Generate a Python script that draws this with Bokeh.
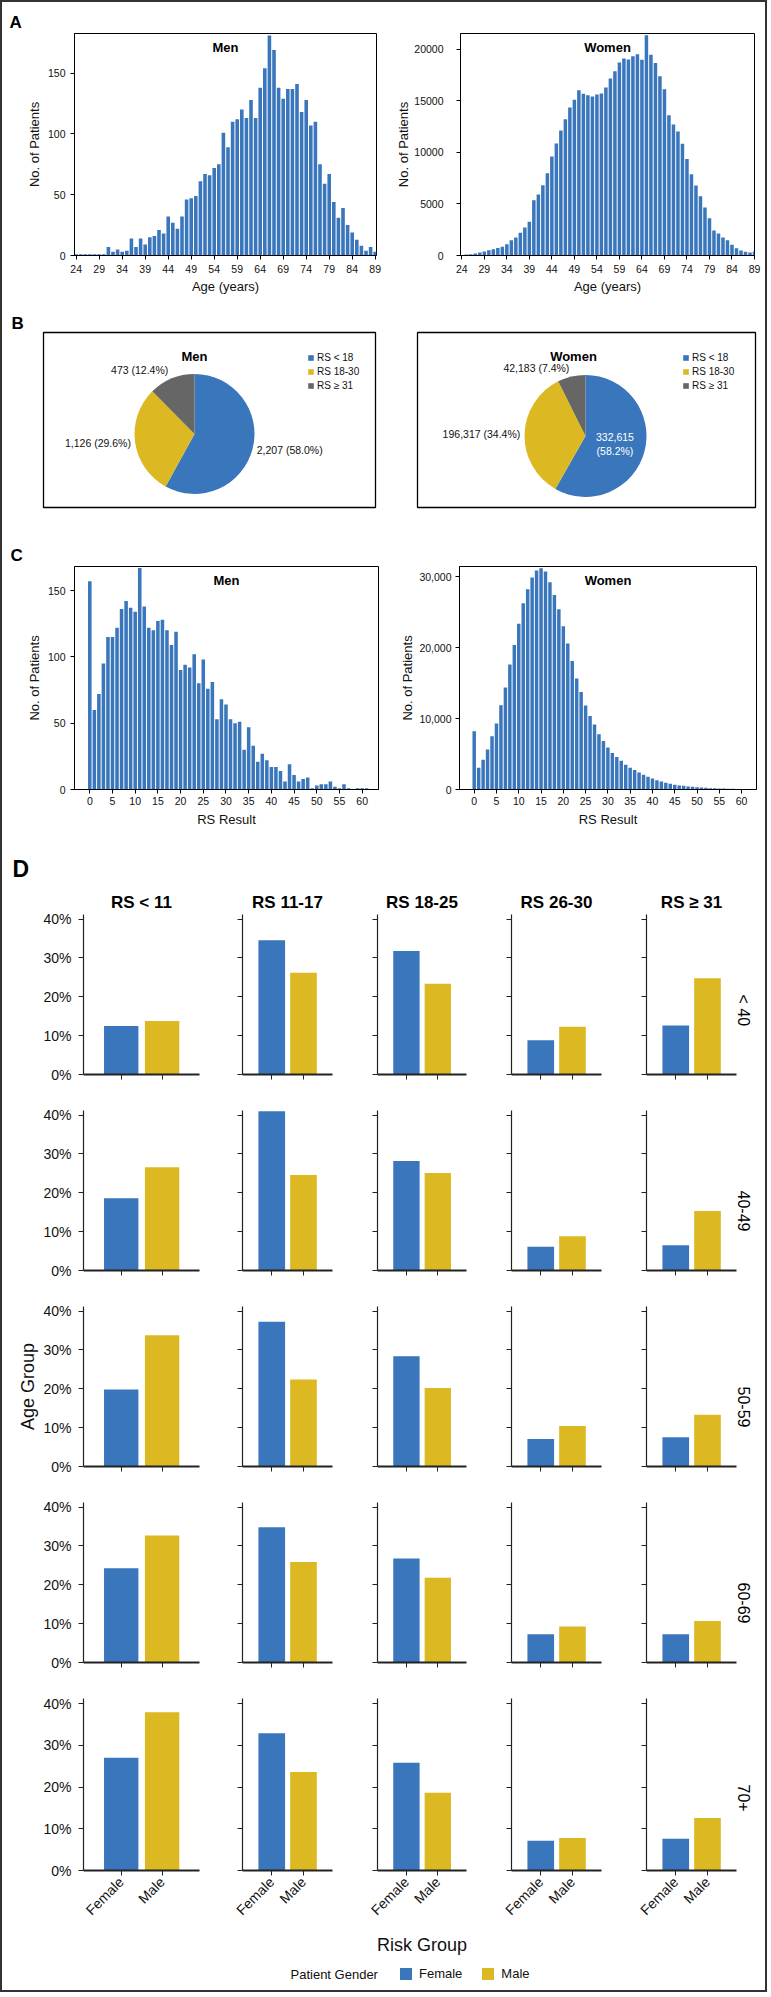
import math
import numpy as np
from bokeh.plotting import figure
from bokeh.layouts import column, row
from bokeh.models import (Range1d, FixedTicker, Label, Legend, LegendItem, Title, LinearAxis,
                          NumeralTickFormatter, PrintfTickFormatter, ColumnDataSource,
                          CustomLabelingPolicy)
from bokeh.core.properties import value
from bokeh.embed import file_html
from bokeh.resources import INLINE

FONT = "Liberation Sans"
BLUE = "#3a76bb"
YELLOW = "#dcb923"
GRAY = "#666666"
TXT = "#111111"
EDGE = "2px solid #333333"
EW = 2

# ---------------- data ----------------
ages = list(range(24, 90))
men_age_counts = [1, 1, 1, 1, 1, 1, 1, 7, 3, 5, 3, 4, 14, 7, 14, 9,
                  15, 16, 21, 18, 32, 27, 22, 32, 46, 47,
                  49, 61, 67, 66, 72, 75, 101, 89, 110, 112,
                  120, 113, 128, 113, 138, 154, 181, 169, 138, 129,
                  137, 137, 141, 118, 128, 107, 110, 75, 59, 67,
                  44, 31, 39, 25, 19, 13, 8, 4, 7, 3]
women_age_counts = [50, 100, 130, 190, 290, 390, 520, 610, 740, 840, 1100, 1490, 1750, 2200, 2720, 3270,
                    5370, 5920, 6830, 7990, 9610, 10870, 12130, 13240, 14370, 15110,
                    16050, 15700, 15570, 15440, 15630, 15730, 16310, 17180, 17900, 18740,
                    19120, 19030, 19350, 19550, 19000, 21390, 19480, 18700, 17410, 16150,
                    13620, 12720, 12040, 10840, 9380, 7900, 6800, 5760, 4660, 3620,
                    2430, 2140, 1750, 1490, 1040, 710, 490, 360, 290, 390]
age_ticks = [24, 29, 34, 39, 44, 49, 54, 59, 64, 69, 74, 79, 84, 89]

rs_scores = list(range(0, 62))
men_rs_counts = [157, 60, 72, 95, 115, 115, 122, 136, 142, 137,
                 134, 167, 138, 122, 120, 127, 128, 120, 109, 119,
                 90, 94, 92, 102, 80, 98, 76, 81, 53, 68,
                 64, 53, 50, 51, 30, 47, 33, 21, 27, 22,
                 17, 17, 14, 6, 19, 11, 6, 8, 9, 1,
                 3, 4, 4, 6, 2, 1, 4, 1, 0, 1,
                 1, 1]
women_rs_counts = [8200, 3060, 4190, 5650, 7490, 9280, 11870, 14370, 17620, 20350,
                   23360, 26240, 28210, 29860, 30850, 31180, 30710, 29200, 27410, 25390,
                   22980, 20580, 18090, 15640, 13750, 11820, 10360, 9140, 7770, 6830,
                   5930, 5130, 4570, 4050, 3490, 3060, 2730, 2400, 2070, 1790,
                   1550, 1320, 1130, 940, 800, 660, 570, 520, 420, 380,
                   330, 280, 240, 190, 190, 140, 140, 100, 90, 50,
                   40, 30]
rs_ticks = [0, 5, 10, 15, 20, 25, 30, 35, 40, 45, 50, 55, 60]

pie_categories = ["RS < 18", "RS 18-30", "RS \u2265 31"]
men_pie_counts = [2207, 1126, 473]
women_pie_counts = [332615, 196317, 42183]

risk_groups = ["RS < 11", "RS 11-17", "RS 18-25", "RS 26-30", "RS \u2265 31"]
age_groups = ["< 40", "40-49", "50-59", "60-69", "70+"]
genders = ["Female", "Male"]
female_lt40 = [12.5, 34.6, 31.8, 8.8, 12.6]
male_lt40 = [13.8, 26.2, 23.4, 12.3, 24.8]
female_40s = [18.6, 41.0, 28.2, 6.1, 6.5]
male_40s = [26.6, 24.6, 25.1, 8.8, 15.3]
female_50s = [19.8, 37.3, 28.4, 7.1, 7.5]
male_50s = [33.8, 22.4, 20.2, 10.4, 13.3]
female_60s = [24.3, 34.8, 26.8, 7.3, 7.3]
male_60s = [32.7, 25.9, 21.8, 9.3, 10.7]
female_70plus = [27.0, 32.9, 25.8, 7.1, 7.6]
male_70plus = [37.9, 23.6, 18.6, 7.8, 12.6]
pct_ticks = [0, 10, 20, 30, 40]

NO_LABELS = "for (const i of indices) { indices.unset(i) }\nreturn indices"


# ---------------- helpers ----------------
def new_fig(width, height, left, right, top, bottom, edges=(), **kw):
    """Figure whose frame keeps its place; page-frame edges are CSS borders."""
    if "left" in edges:
        width -= EW
        left -= EW
    if "right" in edges:
        width -= EW
        right -= EW
    if "top" in edges:
        height -= EW
        top -= EW
    if "bottom" in edges:
        height -= EW
        bottom -= EW
    p = figure(width=width, height=height, toolbar_location=None, output_backend="svg",
               title=None, min_border_left=left, min_border_right=right,
               min_border_top=top, min_border_bottom=bottom, **kw)
    if edges:
        p.styles = {f"border-{e}": EDGE for e in edges}
    return p


def style_axis(ax, size="10.5px"):
    ax.axis_line_color = "black"
    ax.axis_line_width = 1
    ax.major_tick_line_color = "black"
    ax.major_tick_out = 4
    ax.major_tick_in = 0
    ax.minor_tick_line_color = None
    ax.major_label_text_font = FONT
    ax.major_label_text_font_size = size
    ax.major_label_text_color = TXT
    ax.axis_label_text_font = FONT
    ax.axis_label_text_font_style = "normal"
    ax.axis_label_text_font_size = "13px"
    ax.axis_label_text_color = TXT


def add_letter(p, text, offset, standoff, size="17px"):
    p.add_layout(Title(text=text, align="left", offset=offset, standoff=standoff,
                       text_font=FONT, text_font_style="bold", text_font_size=size,
                       text_color="black"), "above")


def make_hist(x, counts, xr, yr, xticks, yticks, width, left, fw, top, fh, bottom,
              title, xlabel, edges=(), yfmt=None, ytick_so=5, ylab_so=5, xtick_so=5, xlab_so=3):
    p = new_fig(width, top + fh + bottom, left, width - left - fw, top, bottom, edges,
                x_range=Range1d(*xr), y_range=Range1d(*yr))
    p.vbar(x=x, top=counts, width=0.78, fill_color=BLUE, line_color=None)
    p.grid.visible = False
    p.outline_line_color = "black"
    p.outline_line_alpha = 1
    p.outline_line_width = 1
    p.xaxis.ticker = FixedTicker(ticks=xticks)
    p.yaxis.ticker = FixedTicker(ticks=yticks)
    if yfmt is not None:
        p.yaxis.formatter = yfmt
    style_axis(p.xaxis[0])
    style_axis(p.yaxis[0])
    p.xaxis.axis_label = xlabel
    p.yaxis.axis_label = "No. of Patients"
    p.yaxis.major_label_standoff = ytick_so
    p.yaxis.axis_label_standoff = ylab_so
    p.xaxis.major_label_standoff = xtick_so
    p.xaxis.axis_label_standoff = xlab_so
    p.add_layout(Label(x=(xr[0] + xr[1]) / 2, y=yr[1], y_offset=-14, text=title,
                       text_font=FONT, text_font_style="bold", text_font_size="13px",
                       text_align="center", text_baseline="middle", text_color="black"))
    return p


def make_pie(counts, title, width, left, fw, cx, cy, R, factors, inside, title_x, leg_x, edges=()):
    fh = 176
    p = new_fig(width, 215, left, width - left - fw, 20, 19, edges,
                x_range=Range1d(0, fw), y_range=Range1d(0, fh),
                x_axis_type=None, y_axis_type=None)
    p.grid.visible = False
    p.outline_line_color = "black"
    p.outline_line_width = 1.3
    total = float(sum(counts))
    frac = [c / total for c in counts]
    cum = np.concatenate([[0.0], np.cumsum(frac)])
    start = [math.pi / 2 - 2 * math.pi * cum[i] for i in range(len(counts))]
    end = [math.pi / 2 - 2 * math.pi * cum[i + 1] for i in range(len(counts))]
    src = ColumnDataSource(dict(cat=pie_categories, start=start, end=end,
                                color=[BLUE, YELLOW, GRAY]))
    p.wedge(x=cx, y=cy, radius=R, start_angle="start", end_angle="end",
            direction="clock", fill_color="color", line_color=None,
            legend_field="cat", source=src)
    lx, ly, lt, la, lc = [], [], [], [], []
    for i, c in enumerate(counts):
        mid = (start[i] + end[i]) / 2
        f = factors[i]
        lx.append(cx + f * R * math.cos(mid))
        ly.append(cy + f * R * math.sin(mid))
        pct = 100.0 * c / total
        if i == inside:
            lt.append(f"{c:,}\n({pct:.1f}%)")
            la.append("center")
            lc.append("white")
        else:
            lt.append(f"{c:,} ({pct:.1f}%)")
            la.append("left" if math.cos(mid) > 0 else "right")
            lc.append(TXT)
    tsrc = ColumnDataSource(dict(x=lx, y=ly, t=lt, a=la, c=lc))
    p.text(x="x", y="y", text="t", text_align="a", text_color="c", source=tsrc,
           text_baseline="middle", text_font=value(FONT), text_font_size="10.5px",
           text_line_height=1.15)
    p.add_layout(Label(x=title_x, y=fh - 24, text=title, text_font=FONT,
                       text_font_style="bold", text_font_size="13px",
                       text_align="center", text_baseline="middle", text_color="black"))
    lg = p.legend[0]
    lg.location = (leg_x, 116)
    lg.orientation = "vertical"
    lg.glyph_width = 7
    lg.glyph_height = 7
    lg.label_height = 11
    lg.label_width = 10
    lg.spacing = 3
    lg.padding = 0
    lg.margin = 0
    lg.label_standoff = 3
    lg.label_text_font = FONT
    lg.label_text_font_size = "10px"
    lg.label_text_color = TXT
    lg.border_line_color = None
    lg.background_fill_alpha = 0
    return p


# ---------------- panel A ----------------
pA_m = make_hist(ages, men_age_counts, (23.63, 89.28), (0, 182.6), age_ticks, [0, 50, 100, 150],
                 395, 74, 302, 33, 222, 58, "Men", "Age (years)", edges=("left", "top"),
                 ytick_so=5, ylab_so=3, xtick_so=5, xlab_so=3)
pA_w = make_hist(ages, women_age_counts, (23.71, 89.0), (0, 21553), age_ticks,
                 [0, 5000, 10000, 15000, 20000],
                 376, 66, 295, 33, 222, 58, "Women", "Age (years)", edges=("right", "top"),
                 ytick_so=13, ylab_so=0, xtick_so=5, xlab_so=3)
add_letter(pA_m, "A", -65, 4)

# ---------------- panel B ----------------
pB_m = make_pie(men_pie_counts, "Men", 395, 43, 332, 151, 74, 60,
                [1.07, 1.07, 1.15], None, 151, 264, edges=("left",))
pB_w = make_pie(women_pie_counts, "Women", 376, 24, 338, 168, 72, 61,
                [0.5, 1.07, 1.15], 0, 156, 265, edges=("right",))
add_letter(pB_m, "B", -32, 0)

# ---------------- panel C ----------------
pC_m = make_hist(rs_scores, men_rs_counts, (-3.37, 63.6), (0, 168.1), rs_ticks, [0, 50, 100, 150],
                 395, 74, 304, 40, 223, 49, "Men", "RS Result", edges=("left",),
                 ytick_so=5, ylab_so=3, xtick_so=3, xlab_so=4)
pC_w = make_hist(rs_scores, women_rs_counts, (-3.3, 63.35), (0, 31413), rs_ticks,
                 [0, 10000, 20000, 30000],
                 376, 66, 297, 40, 223, 49, "Women", "RS Result", edges=("right",),
                 yfmt=NumeralTickFormatter(format="0,0"),
                 ytick_so=4, ylab_so=1, xtick_so=3, xlab_so=4)
add_letter(pC_m, "C", -64, 3)

# ---------------- panel D ----------------
female_by_age = [female_lt40, female_40s, female_50s, female_60s, female_70plus]
male_by_age = [male_lt40, male_40s, male_50s, male_60s, male_70plus]
col_w = [208, 135, 134, 135, 159]
col_left = [83, 10, 9, 10, 10]
FW_D, FH_D = 116, 172
D_XR = (0.078, 2.914)
D_YR = (0, 41.2)
gx = [i + 1 for i in range(len(genders))]

d_rows = []
n_rows = len(age_groups)
n_cols = len(risk_groups)
for r in range(n_rows):
    figs = []
    top = 76 if r == 0 else 12
    bottom = 90 if r == n_rows - 1 else 12
    for c in range(n_cols):
        w = col_w[c]
        edges = ("left",) if c == 0 else (("right",) if c == n_cols - 1 else ())
        p = new_fig(w, top + FH_D + bottom, col_left[c], w - col_left[c] - FW_D, top, bottom,
                    edges, x_range=Range1d(*D_XR), y_range=Range1d(*D_YR))
        p.vbar(x=gx, top=[female_by_age[r][c], male_by_age[r][c]], width=0.84,
               fill_color=[BLUE, YELLOW], line_color=None)
        p.grid.visible = False
        p.outline_line_color = None
        xa, ya = p.xaxis[0], p.yaxis[0]
        for ax in (xa, ya):
            ax.axis_line_color = "#222222"
            ax.major_tick_line_color = "#222222"
            ax.major_tick_out = 5
            ax.major_tick_in = 0
            ax.minor_tick_line_color = None
            ax.major_label_text_font = FONT
            ax.major_label_text_font_size = "14px"
            ax.major_label_text_color = TXT
            ax.axis_label_text_font = FONT
            ax.axis_label_text_font_style = "normal"
            ax.axis_label_text_font_size = "18px"
            ax.axis_label_text_color = TXT
        xa.axis_line_width = 2
        ya.axis_line_width = 1.2
        ya.ticker = FixedTicker(ticks=pct_ticks)
        ya.formatter = PrintfTickFormatter(format="%d%%")
        xa.ticker = FixedTicker(ticks=gx)
        xa.major_label_overrides = {gx[i]: genders[i] for i in range(len(genders))}
        if c == 0:
            ya.major_label_standoff = 7
        else:
            ya.major_label_policy = CustomLabelingPolicy(code=NO_LABELS)
            ya.major_label_standoff = 0
        if r == n_rows - 1:
            xa.major_label_orientation = math.pi / 4
            xa.major_label_standoff = 4
        else:
            xa.major_label_policy = CustomLabelingPolicy(code=NO_LABELS)
            xa.major_label_standoff = 0
        if r == 2 and c == 0:
            ya.axis_label = "Age Group"
            ya.axis_label_standoff = 2
        if r == n_rows - 1 and c == 2:
            xa.axis_label = "Risk Group"
            xa.axis_label_standoff = 8
        if r == 0:
            p.add_layout(Title(text=risk_groups[c], align="center", standoff=6,
                               text_font=FONT, text_font_style="bold",
                               text_font_size="17px", text_color="black"), "above")
        if c == n_cols - 1:
            ra = LinearAxis(ticker=FixedTicker(ticks=[]), axis_label=age_groups[r],
                            axis_line_color=None, major_tick_line_color=None,
                            minor_tick_line_color=None, axis_label_standoff=7,
                            axis_label_text_font=FONT, axis_label_text_font_style="normal",
                            axis_label_text_font_size="16px", axis_label_text_color="black",
                            axis_label_orientation=-math.pi / 2)
            p.add_layout(ra, "right")
        if r == 0 and c == 0:
            add_letter(p, "D", -71, 11, size="23px")
        figs.append(p)
    d_rows.append(row(*figs))

# legend strip
LEG_H = 34
leg = new_fig(771, LEG_H, 0, 0, 0, 0, ("left", "right", "bottom"),
              x_range=Range1d(0, 771 - 2 * EW), y_range=Range1d(0, LEG_H - EW),
              x_axis_type=None, y_axis_type=None)
leg.min_border_left = 0
leg.min_border_right = 0
leg.min_border_bottom = 0
leg.grid.visible = False
leg.outline_line_color = None
rf = leg.vbar(x=[gx[0]], top=[0], width=0.5, fill_color=BLUE, line_color=None)
rm = leg.vbar(x=[gx[1]], top=[0], width=0.5, fill_color=YELLOW, line_color=None)
legend = Legend(items=[LegendItem(label=genders[0], renderers=[rf]),
                       LegendItem(label=genders[1], renderers=[rm])],
                orientation="horizontal", location=(398 - EW, 13 - EW),
                glyph_width=15, glyph_height=15, label_height=15, label_width=10,
                label_standoff=6, spacing=18, padding=0, margin=0,
                border_line_color=None, background_fill_alpha=0,
                label_text_font=FONT, label_text_font_size="13px", label_text_color=TXT)
leg.add_layout(legend)
leg.add_layout(Label(x=290 - EW, y=20.5 - EW, text="Patient Gender", text_font=FONT,
                     text_font_size="13px", text_align="left", text_baseline="middle",
                     text_color=TXT))

layout = column(row(pA_m, pA_w), row(pB_m, pB_w), row(pC_m, pC_w), *d_rows, leg)

open("out.html", "w").write(file_html(layout, INLINE))
